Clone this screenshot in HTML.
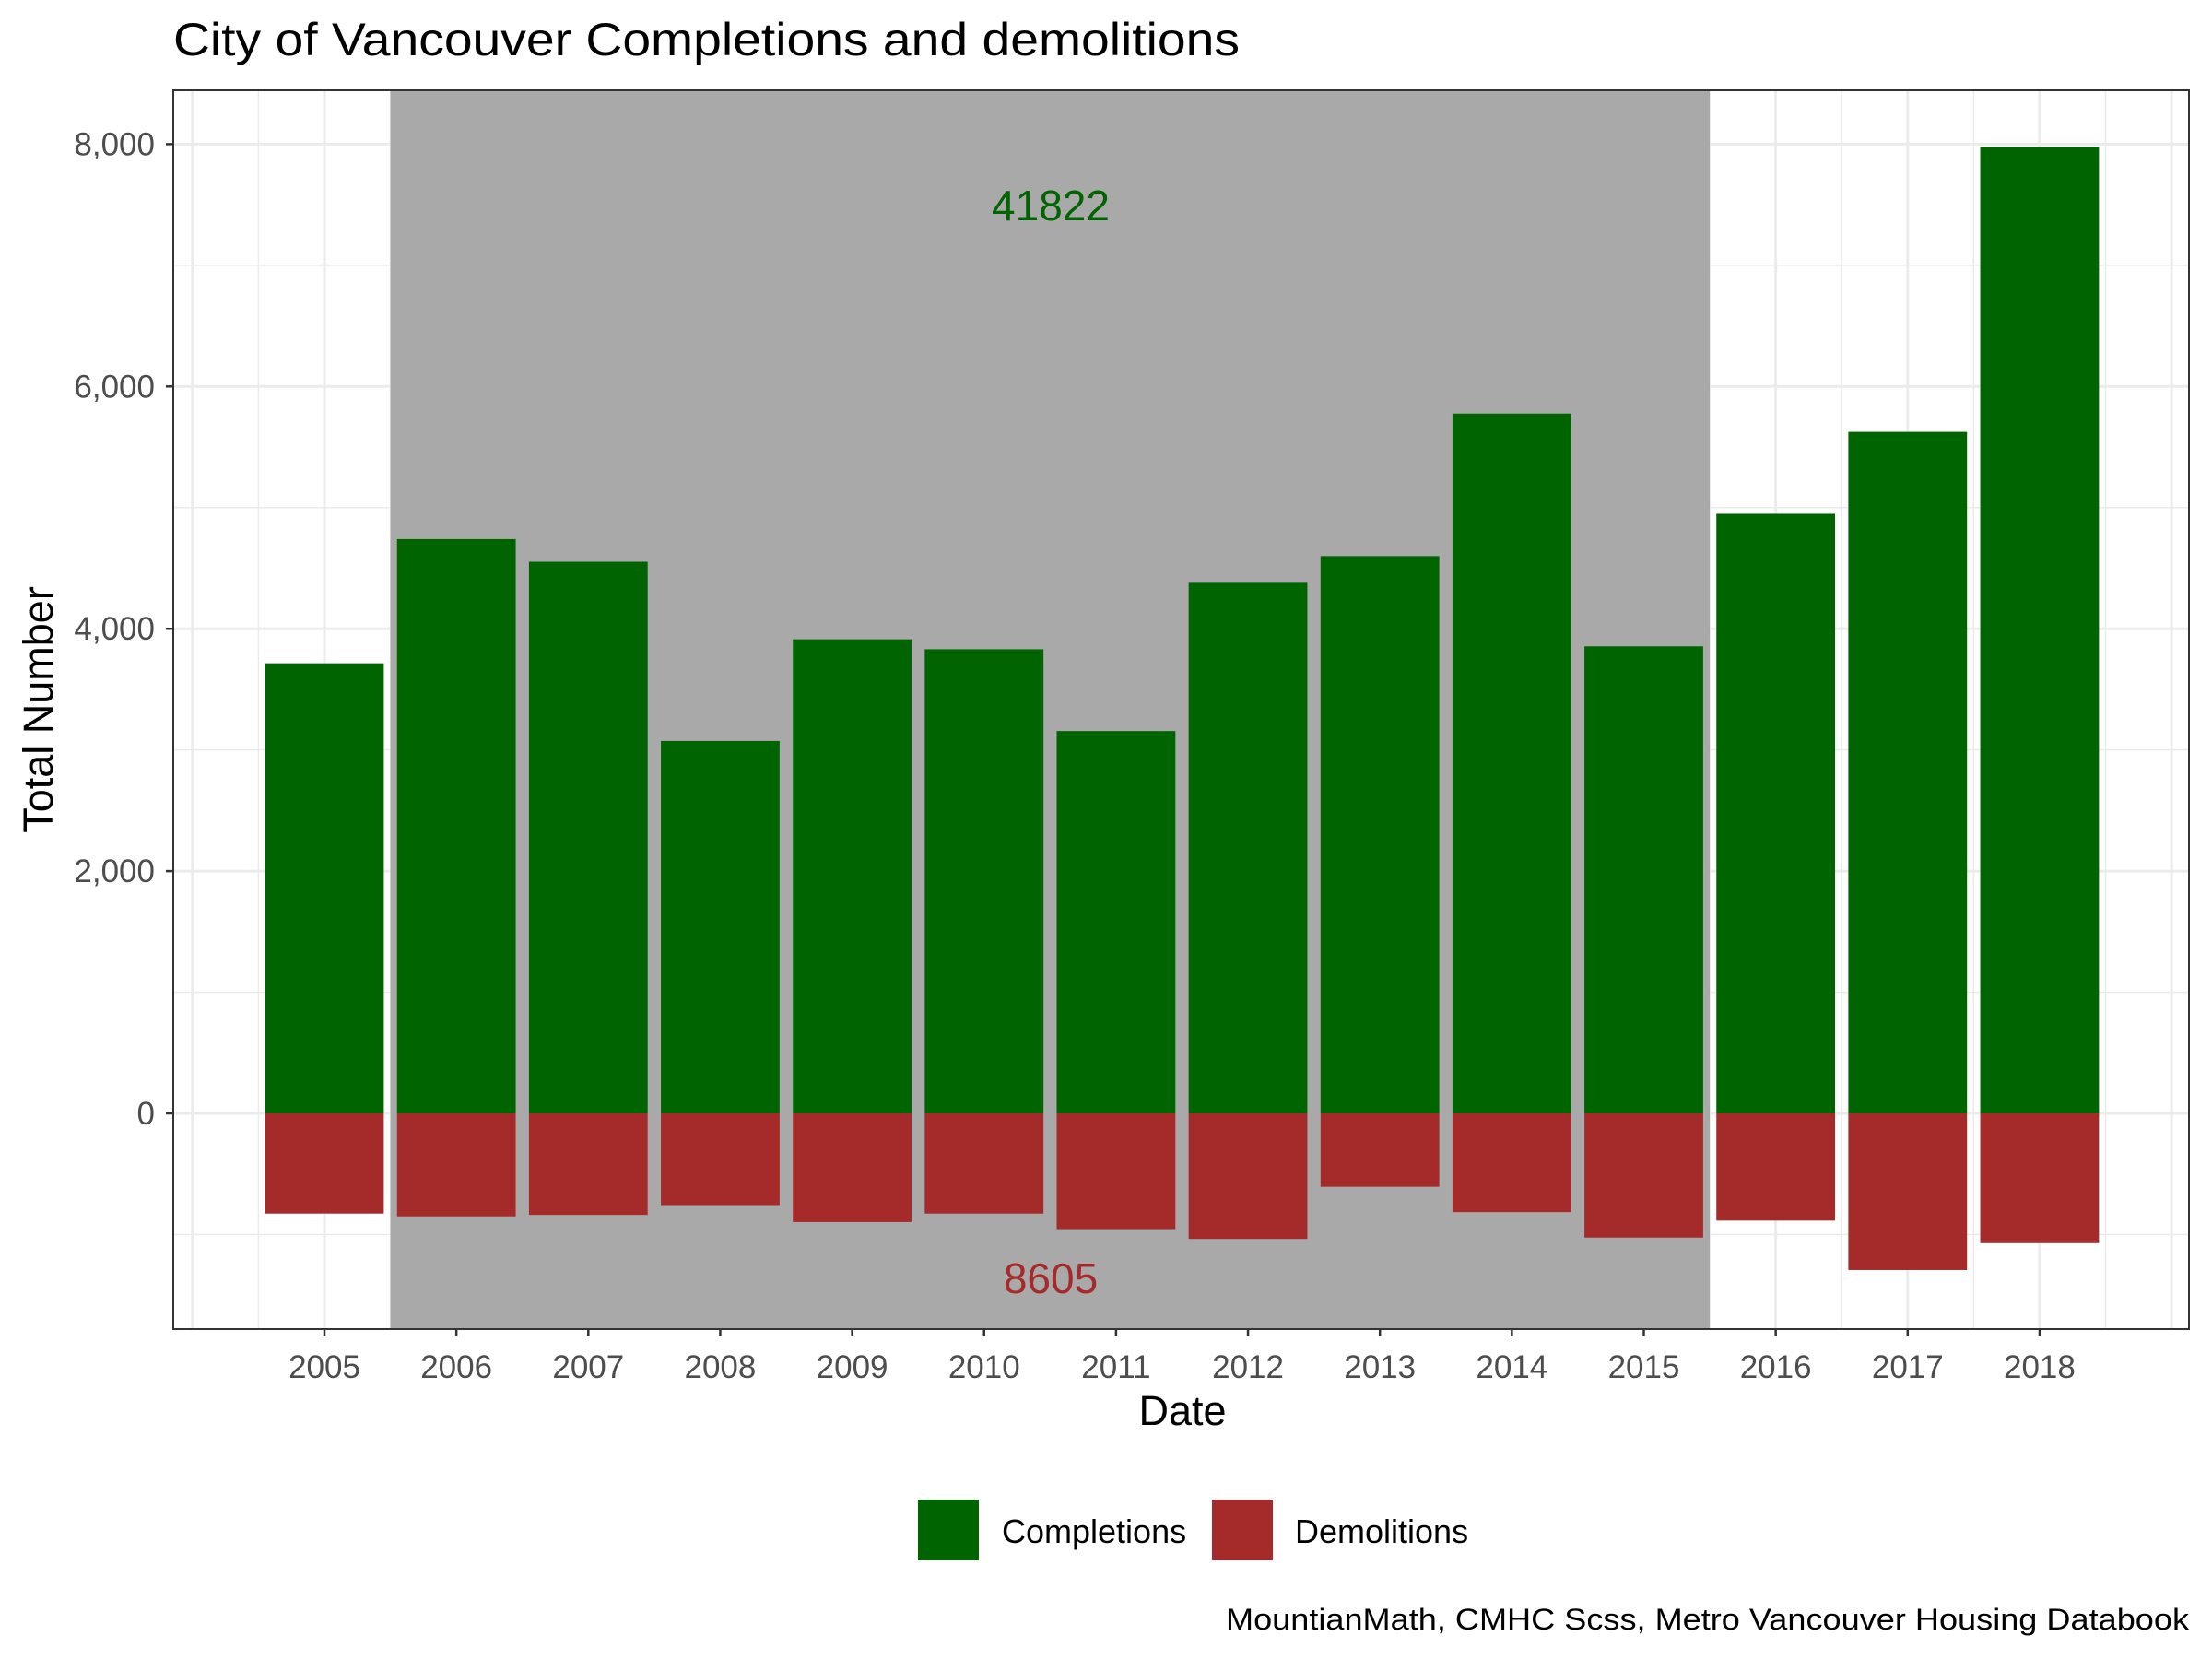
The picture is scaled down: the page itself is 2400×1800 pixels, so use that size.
<!DOCTYPE html>
<html><head><meta charset="utf-8"><style>
html,body{margin:0;padding:0;background:#fff}
svg{display:block;font-family:"Liberation Sans",Arial,sans-serif}
</style></head><body>
<svg id="s" width="2400" height="1800" viewBox="0 0 2400 1800" xmlns="http://www.w3.org/2000/svg">
<rect width="2400" height="1800" fill="#fff"/>
<g id="g"></g>
<text x="188" y="60" font-size="50" fill="#000" textLength="1157" lengthAdjust="spacingAndGlyphs">City of Vancouver Completions and demolitions</text>
<text x="1140" y="239" font-size="46" fill="#006400" text-anchor="middle">41822</text>
<text x="1140" y="1403" font-size="46" fill="#A52A2A" text-anchor="middle">8605</text>
<text x="1283" y="1546" font-size="45" fill="#000" text-anchor="middle">Date</text>
<text transform="translate(57,770) rotate(-90)" font-size="45" fill="#000" text-anchor="middle">Total Number</text>
<rect x="996" y="1627" width="66" height="66" fill="#006400"/>
<text x="1087" y="1674" font-size="36" fill="#000">Completions</text>
<rect x="1315" y="1627" width="66" height="66" fill="#A52A2A"/>
<text x="1405" y="1674" font-size="36" fill="#000">Demolitions</text>
<text x="2375" y="1768" font-size="32" fill="#000" text-anchor="end" textLength="1045" lengthAdjust="spacingAndGlyphs">MountianMath, CMHC Scss, Metro Vancouver Housing Databook</text>
</svg>
<script>
const NS="http://www.w3.org/2000/svg",g=document.getElementById('g');
function el(t,a,txt){const e=document.createElementNS(NS,t);for(const k in a)e.setAttribute(k,a[k]);if(txt)e.textContent=txt;g.appendChild(e);return e;}
const L=188,R=2375,T=98,B=1442,step=143.15,x0=352;
const X=yr=>x0+(yr-2005)*step;
const Y=v=>1208-v*0.13145;
[-1000,1000,3000,5000,7000].forEach(v=>el('line',{x1:L,x2:R,y1:Y(v),y2:Y(v),stroke:'#ebebeb','stroke-width':1.5}));
for(let yr=2004.5;yr<2019;yr++)el('line',{x1:X(yr),x2:X(yr),y1:T,y2:B,stroke:'#ebebeb','stroke-width':1.5});
[0,2000,4000,6000,8000].forEach(v=>el('line',{x1:L,x2:R,y1:Y(v),y2:Y(v),stroke:'#ebebeb','stroke-width':3}));
for(let yr=2004;yr<=2019;yr++)el('line',{x1:X(yr),x2:X(yr),y1:T,y2:B,stroke:'#ebebeb','stroke-width':3});
el('rect',{x:X(2005.5),y:T,width:X(2015.5)-X(2005.5),height:B-T,fill:'#A9A9A9'});
const c=[3715,4740,4553,3074,3913,3831,3156,4379,4600,5776,3855,4949,5625,7975];
const d=[827,850,838,757,897,827,955,1036,606,815,1025,885,1293,1071];
const w=128.8;
c.forEach((v,i)=>{const x=X(2005+i)-w/2;
 el('rect',{x:x,y:Y(v),width:w,height:Y(0)-Y(v),fill:'#006400'});
 el('rect',{x:x,y:Y(0),width:w,height:Y(-d[i])-Y(0),fill:'#A52A2A'});
 el('line',{x1:X(2005+i),x2:X(2005+i),y1:B,y2:B+8,stroke:'#333','stroke-width':2.5});
 el('text',{x:X(2005+i),y:1495,'font-size':35,fill:'#4d4d4d','text-anchor':'middle'},String(2005+i));
});
[0,2000,4000,6000,8000].forEach(v=>{
 el('line',{x1:L-8,x2:L,y1:Y(v),y2:Y(v),stroke:'#333','stroke-width':2.5});
 el('text',{x:168,y:Y(v)+12,'font-size':35,fill:'#4d4d4d','text-anchor':'end'},v.toLocaleString('en-US'));
});
el('rect',{x:L,y:T,width:R-L,height:B-T,fill:'none',stroke:'#333','stroke-width':2});
</script>
</body></html>
